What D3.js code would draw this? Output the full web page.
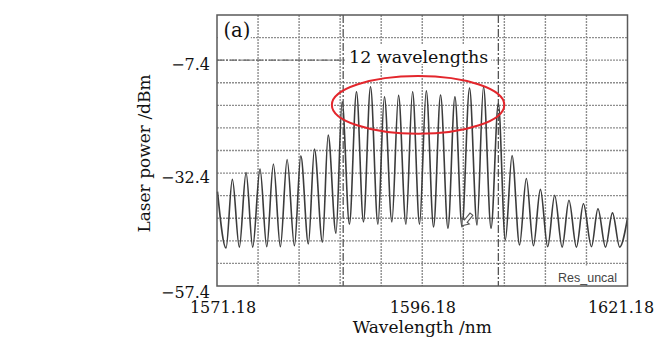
<!DOCTYPE html>
<html>
<head>
<meta charset="utf-8">
<script src="https://cdn.jsdelivr.net/npm/d3@7/dist/d3.min.js"></script>
<style>
  body { margin: 0; background: #fff; }
  svg { display: block; }
</style>
</head>
<body>
<div id="chart"></div>
<script>
// spectrum: peaks and the valleys between them
const peakNm = [1573.05, 1574.72, 1576.42, 1578.05, 1579.72, 1581.39, 1583.05, 1584.72,
  1586.42, 1588.17, 1589.88, 1591.57, 1593.29, 1595.00, 1596.67, 1598.41, 1600.16,
  1601.94, 1603.64, 1605.45, 1607.12, 1608.86, 1610.57, 1612.31, 1614.05, 1615.81,
  1617.58, 1619.35];
const peakDbm = [-33.8, -32.3, -31.5, -30.4, -29.4, -28.6, -27.1, -24.0,
  -16.6, -14.4, -13.3, -15.5, -15.2, -14.4, -14.2, -15.1, -15.5,
  -13.6, -13.3, -17.0, -28.5, -33.6, -36.0, -37.3, -38.4, -39.2,
  -40.3, -41.2];
const troughNm = [1572.28, 1573.90, 1575.53, 1577.24, 1578.90, 1580.61, 1582.31, 1584.02,
  1585.67, 1587.31, 1589.02, 1590.78, 1592.48, 1594.19, 1595.85, 1597.56, 1599.31,
  1601.02, 1602.85, 1604.56, 1606.30, 1608.03, 1609.72, 1611.46, 1613.22, 1614.96,
  1616.79, 1618.50, 1620.23];
const troughDbm = [-49.0, -48.8, -48.8, -48.7, -48.7, -48.5, -48.1, -47.7,
  -45.7, -43.7, -43.2, -43.7, -43.2, -43.7, -43.7, -44.3, -44.6,
  -44.3, -43.9, -44.6, -47.2, -48.3, -48.5, -48.7, -48.8, -48.8,
  -48.7, -48.8, -48.8];
// where the trace meets the left and right frame
const edgeNm = [1571.24, 1621.18];
const edgeDbm = [-36.5, -42.4];

const xTicks = [1571.18, 1596.18, 1621.18];
const yTicks = [-7.4, -32.4, -57.4];
const markerNm = [1586.55, 1605.45];   // dash-dot wavelength markers
const refDbm = -7.4;

const W = 656, H = 340;
const margin = { left: 217, top: 15, right: 28.5, bottom: 54 };
const width = W - margin.left - margin.right;
const height = H - margin.top - margin.bottom;
const serif = "'DejaVu Serif', serif";

const svg = d3.select("#chart").append("svg")
  .attr("width", W)
  .attr("height", H);

const g = svg.append("g")
  .attr("transform", "translate(" + margin.left + "," + margin.top + ")");

const x = d3.scaleLinear().domain([1571.18, 1621.18]).range([0, width]);
const y = d3.scaleLinear().domain([-57.4, 2.6]).range([height, 0]);

// grid: 10 columns of 5 nm, 12 rows of 5 dB
const xGrid = d3.range(1, 10).map(i => 1571.18 + 5 * i);
const yGrid = d3.range(1, 12).map(i => -57.4 + 5 * i);

g.append("g")
  .selectAll("line")
  .data(xGrid)
  .enter()
  .append("line")
  .attr("x1", d => x(d)).attr("x2", d => x(d))
  .attr("y1", 0).attr("y2", height)
  .attr("stroke", "#8e8e8e")
  .attr("stroke-width", 1.4)
  .attr("stroke-dasharray", "2,1");

g.append("g")
  .selectAll("line")
  .data(yGrid)
  .enter()
  .append("line")
  .attr("x1", 0).attr("x2", width)
  .attr("y1", d => y(d)).attr("y2", d => y(d))
  .attr("stroke", "#8e8e8e")
  .attr("stroke-width", 1.4)
  .attr("stroke-dasharray", "2,1");

// reference level line on the left part
g.append("line")
  .attr("x1", 0).attr("x2", x(markerNm[0]))
  .attr("y1", y(refDbm)).attr("y2", y(refDbm))
  .attr("stroke", "#666")
  .attr("stroke-width", 1.2)
  .attr("stroke-dasharray", "7,2,2,2");

// wavelength markers
g.append("g")
  .selectAll("line")
  .data(markerNm)
  .enter()
  .append("line")
  .attr("x1", d => x(d)).attr("x2", d => x(d))
  .attr("y1", 0).attr("y2", height)
  .attr("stroke", "#555")
  .attr("stroke-width", 1.3)
  .attr("stroke-dasharray", "8,2,2,2");

// trace
const pts = [[edgeNm[0], edgeDbm[0]]];
troughNm.forEach((t, i) => {
  pts.push([t, troughDbm[i]]);
  if (i < peakNm.length) pts.push([peakNm[i], peakDbm[i]]);
});
pts.push([edgeNm[1], edgeDbm[1]]);

const line = d3.line()
  .x(d => x(d[0]))
  .y(d => y(d[1]))
  .curve(d3.curveMonotoneX);

g.append("path")
  .datum(pts)
  .attr("fill", "none")
  .attr("stroke", "#3c3c3c")
  .attr("stroke-width", 1.6)
  .attr("d", line);

// hollow arrow marker sitting on a valley
const arrow = g.append("g")
  .attr("transform", "translate(" + x(troughNm[17]) + "," + (y(troughDbm[17]) - 1) + ") rotate(129)");
arrow.append("path")
  .attr("d", "M0,0 L-6,-4.5 L-6,-1.8 L-15,-1.8 L-15,1.8 L-6,1.8 L-6,4.5 Z")
  .attr("fill", "#fff")
  .attr("stroke", "#555")
  .attr("stroke-width", 1.1);

// label boxes and texts inside the plot
g.append("rect")
  .attr("x", 0.8).attr("y", 0.8).attr("width", 33).attr("height", 24)
  .attr("fill", "#fff");
g.append("text")
  .attr("x", 6.5).attr("y", 21.5)
  .attr("font-family", serif)
  .attr("font-size", 19.5)
  .attr("fill", "#111")
  .text("(a)");

g.append("rect")
  .attr("x", 129).attr("y", 29).attr("width", 145).attr("height", 20)
  .attr("fill", "#fff");
g.append("text")
  .attr("x", 132).attr("y", 48.3)
  .attr("font-family", serif)
  .attr("font-size", 17.5)
  .attr("fill", "#111")
  .text("12 wavelengths");

g.append("rect")
  .attr("x", 333).attr("y", 250.5).attr("width", width - 333.8).attr("height", height - 251.3)
  .attr("fill", "#fff");
g.append("text")
  .attr("x", 341).attr("y", 266.7)
  .attr("font-family", "'Liberation Sans', sans-serif")
  .attr("font-size", 12.5)
  .attr("fill", "#444")
  .text("Res_uncal");

// 12-channel ellipse
const ec = [1595.67, -17.3];
g.append("ellipse")
  .attr("cx", x(ec[0]))
  .attr("cy", y(ec[1]))
  .attr("rx", x(ec[0] + 10.5) - x(ec[0]))
  .attr("ry", y(ec[1] - 6.4) - y(ec[1]))
  .attr("fill", "none")
  .attr("stroke", "#e3262c")
  .attr("stroke-width", 2);

// frame
g.append("rect")
  .attr("width", width).attr("height", height)
  .attr("fill", "none")
  .attr("stroke", "#5a5a5a")
  .attr("stroke-width", 1.5);

// axes
const xAxis = g.append("g")
  .attr("transform", "translate(0," + height + ")")
  .call(d3.axisBottom(x).tickValues(xTicks).tickSize(0).tickFormat(d3.format(".2f")));
xAxis.select(".domain").remove();
xAxis.selectAll("text")
  .attr("font-family", serif)
  .attr("font-size", 16)
  .attr("fill", "#111")
  .attr("y", 26.7)
  .attr("dy", 0)
  .attr("dx", (d, i) => i === 0 ? 5.5 : (i === xTicks.length - 1 ? -7 : 0));

const yAxis = g.append("g")
  .call(d3.axisLeft(y).tickValues(yTicks).tickSize(0).tickFormat(d3.format(".1f")));
yAxis.select(".domain").remove();
yAxis.selectAll("text")
  .attr("font-family", serif)
  .attr("font-size", 16)
  .attr("fill", "#111")
  .attr("x", -7)
  .attr("dy", d => d === -57.4 ? 11 : 9);

svg.append("text")
  .attr("x", margin.left + width / 2)
  .attr("y", 333.3)
  .attr("text-anchor", "middle")
  .attr("font-family", serif)
  .attr("font-size", 17)
  .attr("fill", "#111")
  .text("Wavelength /nm");

svg.append("text")
  .attr("transform", "translate(150,153.5) rotate(-90)")
  .attr("text-anchor", "middle")
  .attr("font-family", serif)
  .attr("font-size", 17)
  .attr("fill", "#111")
  .text("Laser power /dBm");
</script>
</body>
</html>
